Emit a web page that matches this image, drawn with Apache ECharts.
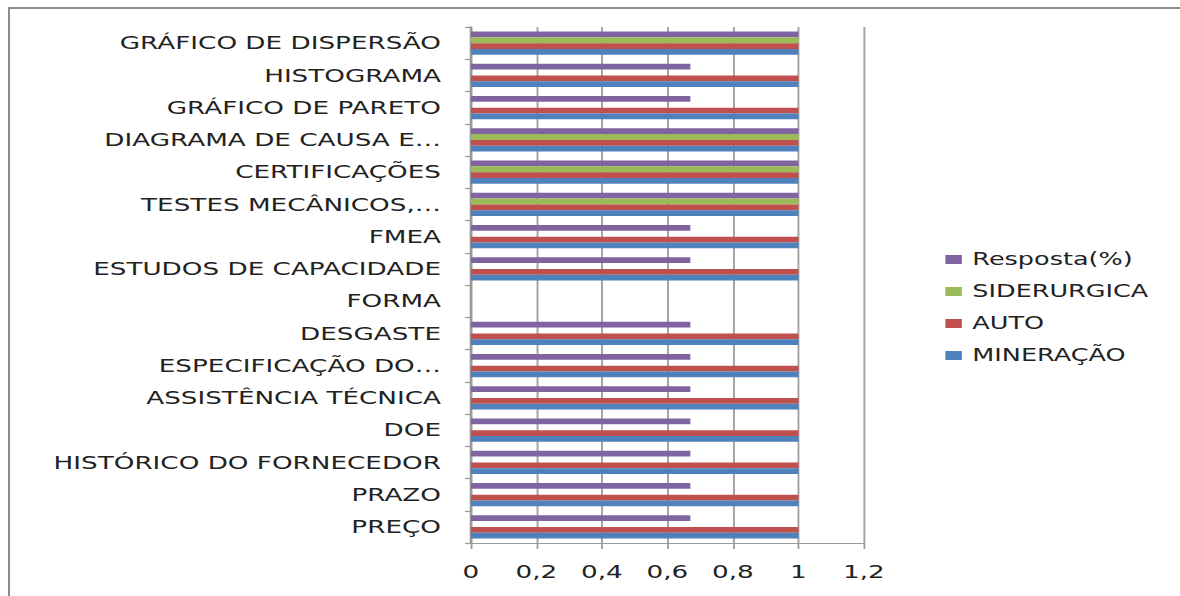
<!DOCTYPE html>
<html><head><meta charset="utf-8">
<script src="https://cdn.jsdelivr.net/npm/echarts@6/dist/echarts.min.js"></script>
<style>
html,body{margin:0;padding:0;background:#fff;overflow:hidden;width:1180px;height:596px}
#frame{position:absolute;left:8px;top:7px;width:1172px;height:589px;border-top:2px solid #8c8c8c;border-left:2px solid #8c8c8c;box-sizing:border-box}
#chart{position:absolute;left:0;top:0;width:787px;height:596px;transform:scaleX(1.4994);transform-origin:0 0}
</style></head><body>
<div id="frame"></div>
<div id="chart"></div>
<script>
// categories listed bottom to top
const categories = [
  'PREÇO', 'PRAZO', 'HISTÓRICO DO FORNECEDOR', 'DOE', 'ASSISTÊNCIA TÉCNICA',
  'ESPECIFICAÇÃO DO…', 'DESGASTE', 'FORMA', 'ESTUDOS DE CAPACIDADE', 'FMEA',
  'TESTES MECÂNICOS,…', 'CERTIFICAÇÕES', 'DIAGRAMA DE CAUSA E…', 'GRÁFICO DE PARETO',
  'HISTOGRAMA', 'GRÁFICO DE DISPERSÃO'
];
const mineracao   = [1, 1, 1, 1, 1, 1, 1, 0, 1, 1, 1, 1, 1, 1, 1, 1];
const auto        = [1, 1, 1, 1, 1, 1, 1, 0, 1, 1, 1, 1, 1, 1, 1, 1];
const siderurgica = [0, 0, 0, 0, 0, 0, 0, 0, 0, 0, 1, 1, 1, 0, 0, 1];
const resposta    = [0.67, 0.67, 0.67, 0.67, 0.67, 0.67, 0.67, 0, 0.67, 0.67, 1, 1, 1, 0.67, 0.67, 1];
const legendOrder = ['Resposta(%)', 'SIDERURGICA', 'AUTO', 'MINERAÇÃO'];

const FONT = 'DejaVu Sans';
const chart = echarts.init(document.getElementById('chart'), null, {renderer: 'svg'});
const mk = (name, data, color) => ({
  name, type: 'bar', data, barGap: '0%', barCategoryGap: '28%',
  itemStyle: {color}, emphasis: {disabled: true}
});
chart.setOption({
  animation: false,
  grid: {left: 314.1, right: 210.8, top: 27, bottom: 53, containLabel: false},
  legend: {
    orient: 'vertical', left: 625.5, top: 246, data: legendOrder,
    icon: 'rect', itemWidth: 11, itemHeight: 9, itemGap: 15,
    textStyle: {fontFamily: FONT, fontSize: 17, color: '#222', padding: [0, 0, 0, 2]}
  },
  xAxis: {
    type: 'value', min: 0, max: 1.2, interval: 0.2,
    axisLine: {show: true, lineStyle: {color: '#9a9a9a', width: 1.2}},
    axisTick: {show: true, length: 6, lineStyle: {color: '#9a9a9a', width: 1.2}},
    splitLine: {show: true, lineStyle: {color: '#a3a3a3', width: 1.3}},
    axisLabel: {
      fontFamily: FONT, fontSize: 17.5, color: '#222', margin: 20,
      formatter: v => String(Math.round(v * 10) / 10).replace('.', ',')
    }
  },
  yAxis: {
    type: 'category', data: categories,
    axisLine: {show: true, lineStyle: {color: '#9a9a9a', width: 1.5}},
    axisTick: {show: true, length: 4, lineStyle: {color: '#9a9a9a', width: 1.2}},
    axisLabel: {fontFamily: FONT, fontSize: 17.5, color: '#222', margin: 20}
  },
  series: [
    mk('Resposta(%)', resposta, '#8064A2'),
    mk('SIDERURGICA', siderurgica, '#9BBB59'),
    mk('AUTO', auto, '#C0504D'),
    mk('MINERAÇÃO', mineracao, '#4F81BD')
  ]
});
</script>
</body></html>
